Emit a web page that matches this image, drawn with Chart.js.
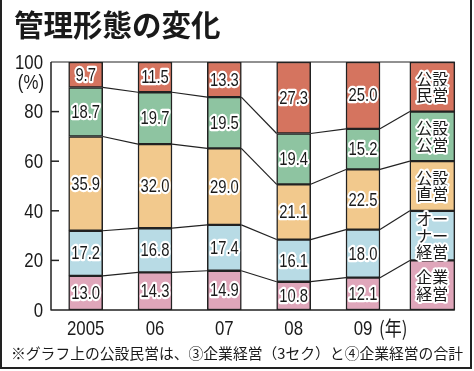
<!DOCTYPE html>
<html><head><meta charset="utf-8">
<script src="https://cdn.jsdelivr.net/npm/chart.js@4"></script>
<style>html,body{margin:0;padding:0;background:#fff}#wrap{width:474px;height:371px;position:relative}</style>
</head><body><div id="wrap"><canvas id="c" width="474" height="371"></canvas></div>
<script>
const title = '管理形態の変化';
const footnote = '※グラフ上の公設民営は、③企業経営（3セク）と④企業経営の合計';
const years = ['2005','06','07','08','09'];
const yearUnit = '(年)';
const yUnit = '(%)';
const seriesNames = ['企業経営','オーナー経営','公設直営','公設公営','公設民営'];
const legendLines = [['企業','経営'],['オー','ナー','経営'],['公設','直営'],['公設','公営'],['公設','民営']];
const kigyo   = [13.0,14.3,14.9,10.8,12.1];
const owner   = [17.2,16.8,17.4,16.1,18.0];
const chokuei = [35.9,32.0,29.0,21.1,22.5];
const kouei   = [18.7,19.7,19.5,19.4,15.2];
const minei   = [9.7,11.5,13.3,27.3,25.0];
const legendShare = [20,20,20,20,20];
const yTicks = [0,20,40,60,80,100];
const colors = ['#dfa6ba','#b8dbe5','#f2c98d','#8ec4a1','#d5745f'];

const series = [kigyo, owner, chokuei, kouei, minei];
const totals = years.map((_, i) => series.reduce((a, s) => a + s[i], 0));
const shares = series.map(s => s.map((v, i) => v / totals[i] * 100));

const NUM = '"Liberation Sans",Arial,sans-serif';
const JP = '"Noto Sans CJK JP",sans-serif';
const INK = '#1a1a1a';
const SX = 0.8;

const datasets = [];
series.forEach((s, k) => {
  datasets.push({label: seriesNames[k], data: [...shares[k], null],
    backgroundColor: colors[k], borderColor: '#222', borderWidth: 1.5, borderSkipped: false,
    barThickness: 34, grouped: false, stack: 'main'});
});
legendShare.forEach((v, k) => {
  datasets.push({label: seriesNames[k] + '_legend', data: [null,null,null,null,null,v],
    backgroundColor: colors[k], borderColor: '#222', borderWidth: 1.5, borderSkipped: false,
    barThickness: 45, grouped: false, stack: 'leg'});
});

function condText(ctx, txt, x, y, halo) {
  ctx.save();
  ctx.translate(x, y);
  ctx.scale(SX, 1);
  if (halo) {
    ctx.lineJoin = 'round';
    ctx.strokeStyle = '#fff';
    ctx.lineWidth = 4.5;
    ctx.strokeText(txt, 0, 0);
  }
  ctx.fillStyle = INK;
  ctx.fillText(txt, 0, 0);
  ctx.restore();
}
function haloText(ctx, txt, x, y) {
  ctx.lineJoin = 'round';
  ctx.strokeStyle = '#fff';
  ctx.lineWidth = 4;
  ctx.strokeText(txt, x, y);
  ctx.fillStyle = INK;
  ctx.fillText(txt, x, y);
}

const deco = {
  id: 'deco',
  beforeDraw(chart) {
    const ctx = chart.ctx;
    ctx.save();
    ctx.fillStyle = '#fff';
    ctx.fillRect(0, 0, chart.width, chart.height);
    ctx.restore();
  },
  afterDatasetsDraw(chart) {
    const ctx = chart.ctx;
    const ya = chart.scales.y, xa = chart.scales.x;
    ctx.save();
    // connecting lines
    ctx.strokeStyle = '#222';
    ctx.lineWidth = 1.2;
    for (let k = 0; k < 4; k++) {
      const meta = chart.getDatasetMeta(k);
      for (let i = 0; i < years.length; i++) {
        const a = meta.data[i];
        const b = (i < years.length - 1) ? meta.data[i + 1] : chart.getDatasetMeta(5 + k).data[5];
        ctx.beginPath();
        ctx.moveTo(a.x + a.width / 2, a.y);
        ctx.lineTo(b.x - b.width / 2, b.y);
        ctx.stroke();
      }
    }
    // value labels
    ctx.font = '18.5px ' + NUM;
    ctx.textAlign = 'center';
    ctx.textBaseline = 'middle';
    for (let k = 0; k < 5; k++) {
      const meta = chart.getDatasetMeta(k);
      for (let i = 0; i < years.length; i++) {
        const el = meta.data[i];
        condText(ctx, series[k][i].toFixed(1), el.x, (el.y + el.base) / 2 + 1, true);
      }
    }
    // legend labels
    ctx.font = '16px ' + JP;
    for (let k = 0; k < 5; k++) {
      const el = chart.getDatasetMeta(5 + k).data[5];
      const lines = legendLines[k];
      const lh = 16.5;
      const cy = (el.y + el.base) / 2;
      lines.forEach((t, j) => {
        haloText(ctx, t, el.x, cy + (j - (lines.length - 1) / 2) * lh);
      });
    }
    // axes
    const legEl = chart.getDatasetMeta(9).data[5];
    const xr = legEl.x + legEl.width / 2;
    const L = chart.chartArea.left, T = chart.chartArea.top, B = chart.chartArea.bottom;
    ctx.strokeStyle = '#222';
    ctx.lineWidth = 1.5;
    ctx.beginPath();
    ctx.moveTo(L, T); ctx.lineTo(L, B); ctx.lineTo(xr, B);
    ctx.stroke();
    ctx.lineWidth = 1;
    ctx.beginPath();
    ctx.moveTo(L, T); ctx.lineTo(xr, T);
    ctx.stroke();
    ctx.lineWidth = 1.5;
    yTicks.forEach(v => {
      if (v === 0 || v === 100) return;
      const py = ya.getPixelForValue(v);
      ctx.beginPath(); ctx.moveTo(L, py); ctx.lineTo(L + 8, py); ctx.stroke();
    });
    // tick labels
    ctx.font = '21px ' + NUM;
    ctx.textAlign = 'right';
    yTicks.forEach(v => condText(ctx, String(v), 43, ya.getPixelForValue(v) + 1, false));
    condText(ctx, yUnit, 44, ya.getPixelForValue(100) + 21, false);
    ctx.textAlign = 'center';
    years.forEach((t, i) => condText(ctx, t, xa.getPixelForValue(i), 329, false));
    ctx.restore();
  },
  afterDraw(chart) {
    const ctx = chart.ctx;
    const xa = chart.scales.x;
    ctx.save();
    ctx.fillStyle = INK;
    ctx.textBaseline = 'middle';
    ctx.textAlign = 'left';
    ctx.font = '20px ' + JP;
    ctx.save();
    ctx.translate(xa.getPixelForValue(4) + 16, 328);
    ctx.scale(0.85, 1);
    ctx.fillText(yearUnit, 0, 0);
    ctx.restore();
    ctx.font = 'bold 29.5px ' + JP;
    ctx.fillText(title, 14, 25);
    ctx.font = '14.8px ' + JP;
    ctx.fillText(footnote, 11, 353, 452);
    // frame
    ctx.strokeStyle = '#222';
    ctx.lineWidth = 2;
    ctx.beginPath();
    ctx.moveTo(1, 0); ctx.lineTo(1, 368); ctx.lineTo(471, 368); ctx.lineTo(471, 0);
    ctx.stroke();
    ctx.restore();
  }
};

new Chart(document.getElementById('c'), {
  type: 'bar',
  data: {labels: [...years, ''], datasets},
  options: {
    responsive: false,
    animation: false,
    layout: {padding: {top: 62, right: 7, left: 0, bottom: 0}},
    plugins: {legend: {display: false}, tooltip: {enabled: false}},
    scales: {
      x: {
        stacked: true,
        grid: {display: false, drawTicks: false},
        border: {display: false},
        ticks: {display: false},
        afterFit: s => { s.height = 61; }
      },
      y: {
        stacked: true,
        min: 0, max: 100,
        afterBuildTicks: s => { s.ticks = yTicks.map(v => ({value: v})); },
        grid: {display: false, drawTicks: false},
        border: {display: false},
        ticks: {display: false},
        afterFit: s => { s.width = 51; }
      }
    }
  },
  plugins: [deco]
});
</script>
</body></html>
